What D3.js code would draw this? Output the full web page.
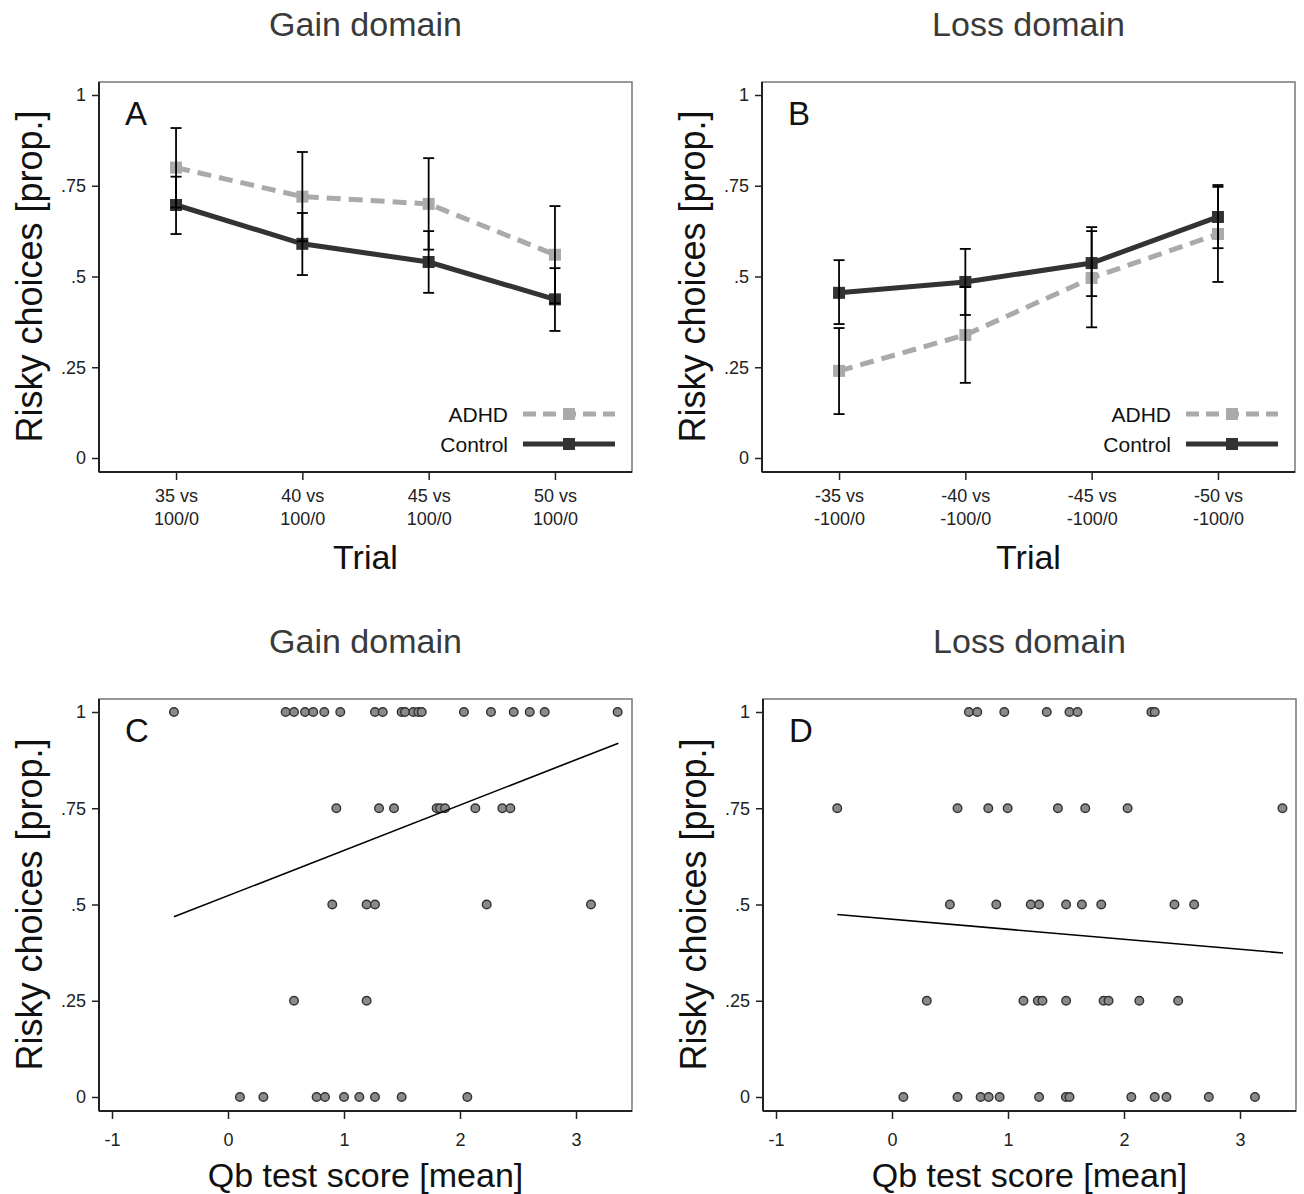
<!DOCTYPE html>
<html>
<head>
<meta charset="utf-8">
<script src="https://cdn.jsdelivr.net/npm/d3@7"></script>
<style>
  body { margin: 0; background: #fff; }
  text { font-family: "Liberation Sans", Arial, sans-serif; }
</style>
</head>
<body>
<div id="chart"></div>
<script>
// ---- data ----
const gainTrials = ["35 vs|100/0", "40 vs|100/0", "45 vs|100/0", "50 vs|100/0"];
const lossTrials = ["-35 vs|-100/0", "-40 vs|-100/0", "-45 vs|-100/0", "-50 vs|-100/0"];

const gainAdhd = [0.80, 0.72, 0.70, 0.56];
const gainAdhdLo = [0.69, 0.597, 0.574, 0.426];
const gainAdhdHi = [0.909, 0.843, 0.826, 0.694];
const gainControl = [0.697, 0.59, 0.54, 0.437];
const gainControlLo = [0.617, 0.504, 0.455, 0.35];
const gainControlHi = [0.775, 0.675, 0.625, 0.523];

const lossAdhd = [0.24, 0.339, 0.496, 0.617];
const lossAdhdLo = [0.121, 0.207, 0.36, 0.485];
const lossAdhdHi = [0.358, 0.471, 0.636, 0.752];
const lossControl = [0.455, 0.485, 0.537, 0.664];
const lossControlLo = [0.369, 0.394, 0.446, 0.578];
const lossControlHi = [0.545, 0.576, 0.625, 0.747];

// scatter: Qb score vs risky choices
const gainQb = [
  -0.466, 0.497, 0.569, 0.664, 0.735, 0.830, 0.968, 1.267, 1.334, 1.497, 1.526, 1.598, 1.641, 1.670, 2.034, 2.267, 2.463, 2.601, 2.730, 3.359,
  0.934, 1.302, 1.431, 1.799, 1.828, 1.871, 2.132, 2.365, 2.434,
  0.899, 1.195, 1.267, 2.230, 3.129,
  0.569, 1.195,
  0.103, 0.305, 0.764, 0.836, 1.0, 1.132, 1.267, 1.497, 2.063
];
const gainRisky = [
  1, 1, 1, 1, 1, 1, 1, 1, 1, 1, 1, 1, 1, 1, 1, 1, 1, 1, 1, 1,
  .75, .75, .75, .75, .75, .75, .75, .75, .75,
  .5, .5, .5, .5, .5,
  .25, .25,
  0, 0, 0, 0, 0, 0, 0, 0, 0
];
const lossQb = [
  0.663, 0.735, 0.968, 1.334, 1.530, 1.599, 2.236, 2.265,
  -0.472, 0.565, 0.830, 0.997, 1.430, 1.666, 2.031, 3.366,
  0.499, 0.899, 1.196, 1.268, 1.501, 1.637, 1.804, 2.435, 2.605,
  0.300, 1.133, 1.257, 1.297, 1.501, 1.824, 1.867, 2.132, 2.467,
  0.098, 0.565, 0.764, 0.833, 0.928, 1.268, 1.499, 1.530, 2.063, 2.265, 2.366, 2.731, 3.129
];
const lossRisky = [
  1, 1, 1, 1, 1, 1, 1, 1,
  .75, .75, .75, .75, .75, .75, .75, .75,
  .5, .5, .5, .5, .5, .5, .5, .5, .5,
  .25, .25, .25, .25, .25, .25, .25, .25, .25,
  0, 0, 0, 0, 0, 0, 0, 0, 0, 0, 0, 0, 0
];

// fitted lines (end points)
const gainFitX = [-0.466, 3.365];
const gainFitY = [0.468, 0.919];
const lossFitX = [-0.472, 3.371];
const lossFitY = [0.474, 0.374];

const yTicks = [0, 0.25, 0.5, 0.75, 1];
const yTickLabels = ["0", ".25", ".5", ".75", "1"];
const qbTicks = [-1, 0, 1, 2, 3];
const qbTickLabels = ["-1", "0", "1", "2", "3"];
const groups = ["ADHD", "Control"];

// ---- layout ----
const W = 1304, H = 1194;
const svg = d3.select("#chart").append("svg").attr("width", W).attr("height", H);

const adhdColor = "#aaaaaa";
const controlColor = "#333333";
const axisColor = "#222";

function makeY(f) {
  return d3.scaleLinear().domain([0, 1]).range([f.y + f.h - 14, f.y + 13]);
}

function drawFrame(f, y, title, letter, xTitle, xTitleOffset) {
  const g = svg.append("g");
  g.append("rect")
    .attr("x", f.x).attr("y", f.y)
    .attr("width", f.w).attr("height", f.h)
    .attr("fill", "none")
    .attr("stroke", "#777")
    .attr("stroke-width", 1.5);

  const yAxis = d3.axisLeft(y)
    .tickValues(yTicks)
    .tickFormat((d, i) => yTickLabels[i])
    .tickSize(7)
    .tickPadding(6);
  g.append("g")
    .attr("transform", `translate(${f.x},0)`)
    .call(yAxis)
    .call((a) => a.select(".domain").remove())
    .call((a) => a.selectAll("line").attr("stroke", axisColor).attr("stroke-width", 1.5))
    .call((a) => a.selectAll("text").attr("font-size", 18).attr("fill", axisColor)
      .style("font-family", '"Liberation Sans", Arial, sans-serif'));

  g.append("line")
    .attr("x1", f.x).attr("x2", f.x)
    .attr("y1", f.y).attr("y2", f.y + f.h)
    .attr("stroke", axisColor).attr("stroke-width", 2);
  g.append("line")
    .attr("x1", f.x).attr("x2", f.x + f.w)
    .attr("y1", f.y + f.h).attr("y2", f.y + f.h)
    .attr("stroke", axisColor).attr("stroke-width", 2);

  // title above
  svg.append("text")
    .attr("x", f.x + f.w / 2)
    .attr("y", f.y - 46)
    .attr("text-anchor", "middle")
    .attr("font-size", 34)
    .attr("fill", "#3a3a3a")
    .text(title);

  // panel letter
  svg.append("text")
    .attr("x", f.x + 26)
    .attr("y", f.y + 43)
    .attr("font-size", 33)
    .attr("fill", "#111")
    .text(letter);

  // y title
  svg.append("text")
    .attr("transform", `translate(${f.x - 57},${(y(0) + y(1)) / 2}) rotate(-90)`)
    .attr("text-anchor", "middle")
    .attr("font-size", 36)
    .attr("fill", "#111")
    .text("Risky choices [prop.]");

  // x title
  svg.append("text")
    .attr("x", f.x + f.w / 2)
    .attr("y", f.y + f.h + xTitleOffset)
    .attr("text-anchor", "middle")
    .attr("font-size", 34)
    .attr("fill", "#111")
    .text(xTitle);
}

function drawTrialPanel(f, trials, adhd, adhdLo, adhdHi, ctrl, ctrlLo, ctrlHi, title, letter) {
  const x = d3.scalePoint().domain(trials).range([f.x, f.x + f.w]).padding(0.61);
  const y = makeY(f);
  drawFrame(f, y, title, letter, "Trial", 97);

  // x axis with two-line labels
  const xAxis = d3.axisBottom(x).tickSize(8).tickFormat("");
  const ax = svg.append("g")
    .attr("transform", `translate(0,${f.y + f.h})`)
    .call(xAxis)
    .call((a) => a.select(".domain").remove())
    .call((a) => a.selectAll("line").attr("stroke", axisColor).attr("stroke-width", 1.5));
  ax.selectAll(".tick")
    .append("text")
    .attr("fill", axisColor)
    .attr("font-size", 18)
    .attr("text-anchor", "middle")
    .selectAll("tspan")
    .data((d) => d.split("|"))
    .join("tspan")
    .attr("x", 0)
    .attr("y", (d, i) => 30 + i * 23)
    .text((d) => d);

  const line = d3.line()
    .x((d, i) => x(trials[i]))
    .y((d) => y(d));

  const series = [
    { vals: ctrl, color: controlColor, dash: null },
    { vals: adhd, color: adhdColor, dash: "14,8" },
  ];
  series.forEach((s) => {
    svg.append("path")
      .datum(s.vals)
      .attr("d", line)
      .attr("fill", "none")
      .attr("stroke", s.color)
      .attr("stroke-width", 5)
      .attr("stroke-dasharray", s.dash);
    svg.append("g")
      .selectAll("rect")
      .data(s.vals)
      .join("rect")
      .attr("x", (d, i) => x(trials[i]) - 6)
      .attr("y", (d) => y(d) - 6)
      .attr("width", 12)
      .attr("height", 12)
      .attr("fill", s.color);
  });

  // error bars
  const bars = [];
  trials.forEach((t, i) => {
    bars.push({ t, lo: adhdLo[i], hi: adhdHi[i] });
    bars.push({ t, lo: ctrlLo[i], hi: ctrlHi[i] });
  });
  const eb = svg.append("g").attr("stroke", "#000").attr("stroke-width", 1.8);
  bars.forEach((b) => {
    const cx = x(b.t);
    eb.append("line").attr("x1", cx).attr("x2", cx).attr("y1", y(b.lo)).attr("y2", y(b.hi));
    eb.append("line").attr("x1", cx - 5.5).attr("x2", cx + 5.5).attr("y1", y(b.lo)).attr("y2", y(b.lo));
    eb.append("line").attr("x1", cx - 5.5).attr("x2", cx + 5.5).attr("y1", y(b.hi)).attr("y2", y(b.hi));
  });

  // legend
  const lg = svg.append("g");
  groups.forEach((name, i) => {
    const cy = f.y + f.h - 58 + i * 30;
    const col = i === 0 ? adhdColor : controlColor;
    lg.append("text")
      .attr("x", f.x + f.w - 124)
      .attr("y", cy + 8)
      .attr("text-anchor", "end")
      .attr("font-size", 21)
      .attr("fill", "#111")
      .text(name);
    lg.append("line")
      .attr("x1", f.x + f.w - 109).attr("x2", f.x + f.w - 17)
      .attr("y1", cy).attr("y2", cy)
      .attr("stroke", col)
      .attr("stroke-width", 5)
      .attr("stroke-dasharray", i === 0 ? "13,7" : null);
    lg.append("rect")
      .attr("x", f.x + f.w - 63 - 6).attr("y", cy - 6)
      .attr("width", 12).attr("height", 12)
      .attr("fill", col);
  });
}

function drawScatterPanel(f, qb, risky, fitX, fitY, title, letter) {
  const x = d3.scaleLinear().domain([-1, 3]).range([f.x + 13, f.x + 477]);
  const y = makeY(f);
  drawFrame(f, y, title, letter, "Qb test score [mean]", 76);

  const xAxis = d3.axisBottom(x)
    .tickValues(qbTicks)
    .tickFormat((d, i) => qbTickLabels[i])
    .tickSize(8)
    .tickPadding(14);
  svg.append("g")
    .attr("transform", `translate(0,${f.y + f.h})`)
    .call(xAxis)
    .call((a) => a.select(".domain").remove())
    .call((a) => a.selectAll("line").attr("stroke", axisColor).attr("stroke-width", 1.5))
    .call((a) => a.selectAll("text").attr("font-size", 18).attr("fill", axisColor)
      .style("font-family", '"Liberation Sans", Arial, sans-serif'));

  svg.append("g")
    .selectAll("circle")
    .data(qb)
    .join("circle")
    .attr("cx", (d) => x(d))
    .attr("cy", (d, i) => y(risky[i]))
    .attr("r", 4.3)
    .attr("fill", "#8a8a8a")
    .attr("stroke", "#333")
    .attr("stroke-width", 1.4);

  svg.append("line")
    .attr("x1", x(fitX[0])).attr("y1", y(fitY[0]))
    .attr("x2", x(fitX[1])).attr("y2", y(fitY[1]))
    .attr("stroke", "#000")
    .attr("stroke-width", 1.6);
}

drawTrialPanel({ x: 99, y: 82, w: 533, h: 390 }, gainTrials,
  gainAdhd, gainAdhdLo, gainAdhdHi, gainControl, gainControlLo, gainControlHi, "Gain domain", "A");
drawTrialPanel({ x: 762, y: 82, w: 533, h: 390 }, lossTrials,
  lossAdhd, lossAdhdLo, lossAdhdHi, lossControl, lossControlLo, lossControlHi, "Loss domain", "B");
drawScatterPanel({ x: 99, y: 699, w: 533, h: 412 }, gainQb, gainRisky, gainFitX, gainFitY, "Gain domain", "C");
drawScatterPanel({ x: 763, y: 699, w: 533, h: 412 }, lossQb, lossRisky, lossFitX, lossFitY, "Loss domain", "D");
</script>
</body>
</html>
